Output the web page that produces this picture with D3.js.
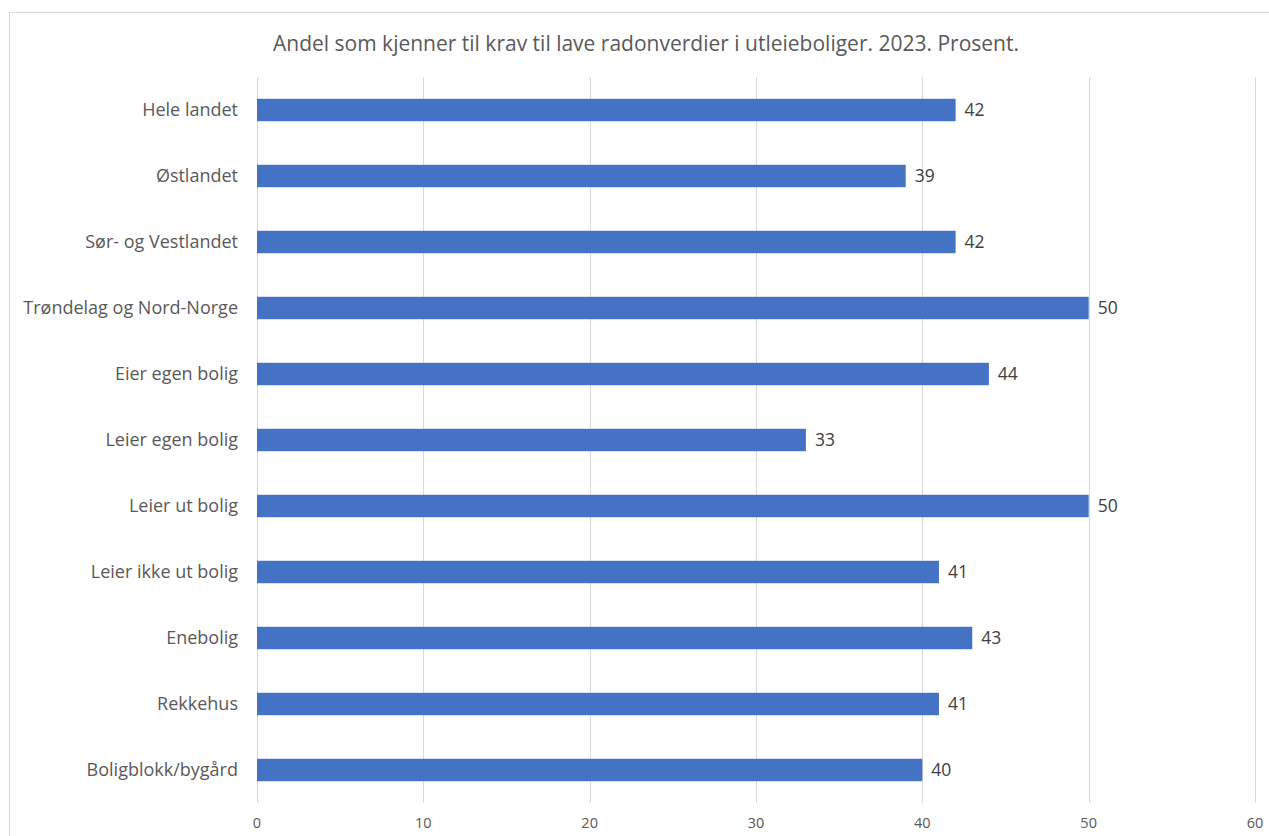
<!DOCTYPE html>
<html><head><meta charset="utf-8">
<script src="https://cdn.jsdelivr.net/npm/d3@7"></script>
<style>body{margin:0;background:#fff}svg{display:block}</style>
</head><body>
<script>
const categories = ["Hele landet","Østlandet","Sør- og Vestlandet","Trøndelag og Nord-Norge","Eier egen bolig","Leier egen bolig","Leier ut bolig","Leier ikke ut bolig","Enebolig","Rekkehus","Boligblokk/bygård"];
const values = [42,39,42,50,44,33,50,41,43,41,40];
const xTicks = [0,10,20,30,40,50,60];
const title = "Andel som kjenner til krav til lave radonverdier i utleieboliger. 2023. Prosent.";

const W=1269,H=836;
const svg=d3.select("body").append("svg").attr("width",W).attr("height",H);
const font="'Open Sans', sans-serif";
svg.append("rect").attr("x",9.5).attr("y",12.5).attr("width",1280).attr("height",900).attr("fill","#fff").attr("stroke","#d9d9d9");
const x=d3.scaleLinear().domain([0,60]).range([257,1255]);
const y=d3.scaleBand().domain(categories).range([77,803]).paddingInner(0.66).paddingOuter(0.33);

svg.append("g").selectAll("line").data(xTicks).join("line")
 .attr("x1",d=>Math.round(x(d))+0.5).attr("x2",d=>Math.round(x(d))+0.5)
 .attr("y1",77).attr("y2",803).attr("stroke","#d9d9d9").attr("stroke-width",1);

svg.append("g").selectAll("rect").data(values).join("rect")
 .attr("x",x(0)).attr("y",(d,i)=>y(categories[i])).attr("width",d=>x(d)-x(0))
 .attr("height",y.bandwidth()).attr("fill","#4472c4");

svg.append("g").selectAll("text").data(values).join("text")
 .attr("x",d=>x(d)+9).attr("y",(d,i)=>y(categories[i])+y.bandwidth()/2).attr("dy","0.35em")
 .attr("font-family",font).attr("font-size",17.5).attr("fill","#404040").text(d=>d);

svg.append("g").selectAll("text").data(categories).join("text")
 .attr("x",238).attr("y",d=>y(d)+y.bandwidth()/2).attr("dy","0.35em").attr("text-anchor","end")
 .attr("font-family",font).attr("font-size",18).attr("fill","#595959").text(d=>d);

svg.append("g").selectAll("text").data(xTicks).join("text")
 .attr("x",d=>x(d)).attr("y",823).attr("dy","0.35em").attr("text-anchor","middle")
 .attr("font-family",font).attr("font-size",14.5).attr("fill","#595959").text(d=>d);

svg.append("text").attr("x",646).attr("y",44).attr("dy","0.35em").attr("text-anchor","middle")
 .attr("font-family",font).attr("font-size",21).attr("fill","#595959").text(title);
</script>
</body></html>
